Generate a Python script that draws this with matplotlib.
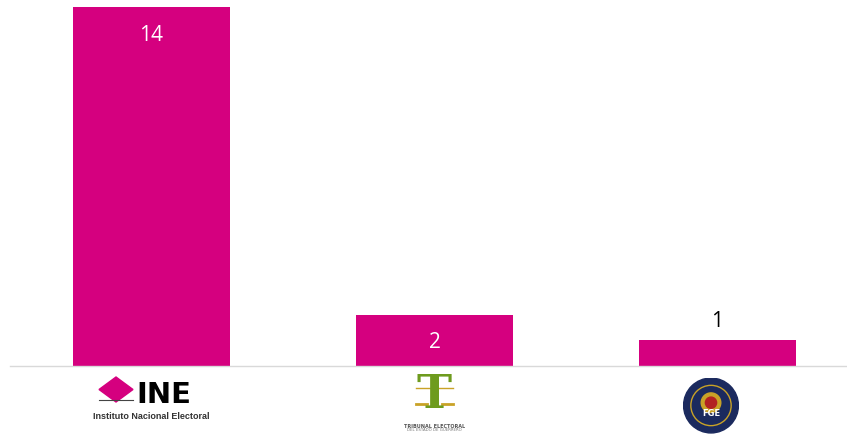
import matplotlib.pyplot as plt
from matplotlib.patches import Polygon, Circle
from matplotlib.transforms import blended_transform_factory

# Data
categories = ['INE', 'Tribunal Electoral', 'FGE']
values = [14, 2, 1]
bar_color = '#D5007F'

fig = plt.figure(figsize=(8.47, 4.34), dpi=100)
ax = fig.add_axes([10 / 847, 1 - 366 / 434, 837 / 847, 359 / 434])

x = list(range(len(categories)))
bars = ax.bar(x, values, width=0.555, color=bar_color)
ax.set_xlim(-0.5, 2.4576)
ax.set_ylim(0, 14)

for spine in ['top', 'right', 'left']:
    ax.spines[spine].set_visible(False)
ax.spines['bottom'].set_color('#D9D9D9')
ax.spines['bottom'].set_linewidth(1)
ax.set_yticks([])
ax.set_xticks([])

# Value labels (Excel-style best fit)
for xi, v in zip(x, values):
    if v >= 10:
        ax.text(xi, v - 1.12, str(v), ha='center', va='center', color='white',
                fontsize=15, family='Open Sans')
    elif v >= 2:
        ax.text(xi, v * 0.45, str(v), ha='center', va='center', color='white',
                fontsize=15, family='Open Sans')
    else:
        ax.text(xi, v + 0.75, str(v), ha='center', va='center', color='black',
                fontsize=15, family='Open Sans')

# Logo stand-ins below the axis
tr = blended_transform_factory(ax.transData, ax.transAxes)
px = 1 / 359  # one pixel in axes-y units

# INE
ax.add_patch(Polygon([(-0.1854, -23.5 * px), (-0.1254, -11 * px), (-0.0654, -23.5 * px), (-0.1254, -36 * px)],
                     closed=True, color='#D5007F', transform=tr, clip_on=False))
ax.plot([-0.1854, -0.0654], [-34 * px, -34 * px], color='#444444', lw=0.8, transform=tr, clip_on=False)
ax.text(-0.055, -29 * px, 'INE', transform=tr, ha='left', va='center', fontsize=21,
        fontweight='bold', family='DejaVu Sans', color='black')
ax.text(-0.002, -50.5 * px, 'Instituto Nacional Electoral', transform=tr, ha='center', va='center',
        fontsize=6.5, fontweight='bold', family='Liberation Sans', color='#333333')

# Tribunal Electoral
ax.text(1, -29 * px, 'T', transform=tr, ha='center', va='center', fontsize=34,
        fontweight='bold', family='DejaVu Serif', color='#6E9B1E')
ax.plot([0.935, 1.065], [-22 * px, -22 * px], color='#C9A227', lw=1, transform=tr, clip_on=False)
ax.plot([0.935, 0.975], [-38 * px, -38 * px], color='#C9A227', lw=2, transform=tr, clip_on=False)
ax.plot([1.025, 1.065], [-38 * px, -38 * px], color='#C9A227', lw=2, transform=tr, clip_on=False)
ax.text(1, -60 * px, 'TRIBUNAL ELECTORAL', transform=tr, ha='center', va='center',
        fontsize=3.5, fontweight='bold', family='DejaVu Sans', color='#555555')
ax.text(1, -64 * px, 'DEL ESTADO DE GUERRERO', transform=tr, ha='center', va='center',
        fontsize=2.8, family='DejaVu Sans', color='#777777')

# FGE
circ_ax = fig.add_axes([683 / 847, 1 - 434 / 434, 56 / 847, 57 / 434])
circ_ax.set_xlim(-1, 1)
circ_ax.set_ylim(-1, 1)
circ_ax.set_aspect('equal')
circ_ax.axis('off')
circ_ax.add_patch(Circle((0, 0), 0.98, color='#1B2A5E'))
circ_ax.add_patch(Circle((0, 0), 0.72, fill=False, ec='#C9A227', lw=1))
circ_ax.add_patch(Circle((0, 0.1), 0.35, color='#C9A227'))
circ_ax.add_patch(Circle((0, 0.1), 0.2, color='#B22222'))
circ_ax.text(0, -0.3, 'FGE', ha='center', va='center', color='white', fontsize=6, fontweight='bold')

fig.savefig('out.png', dpi=100)
